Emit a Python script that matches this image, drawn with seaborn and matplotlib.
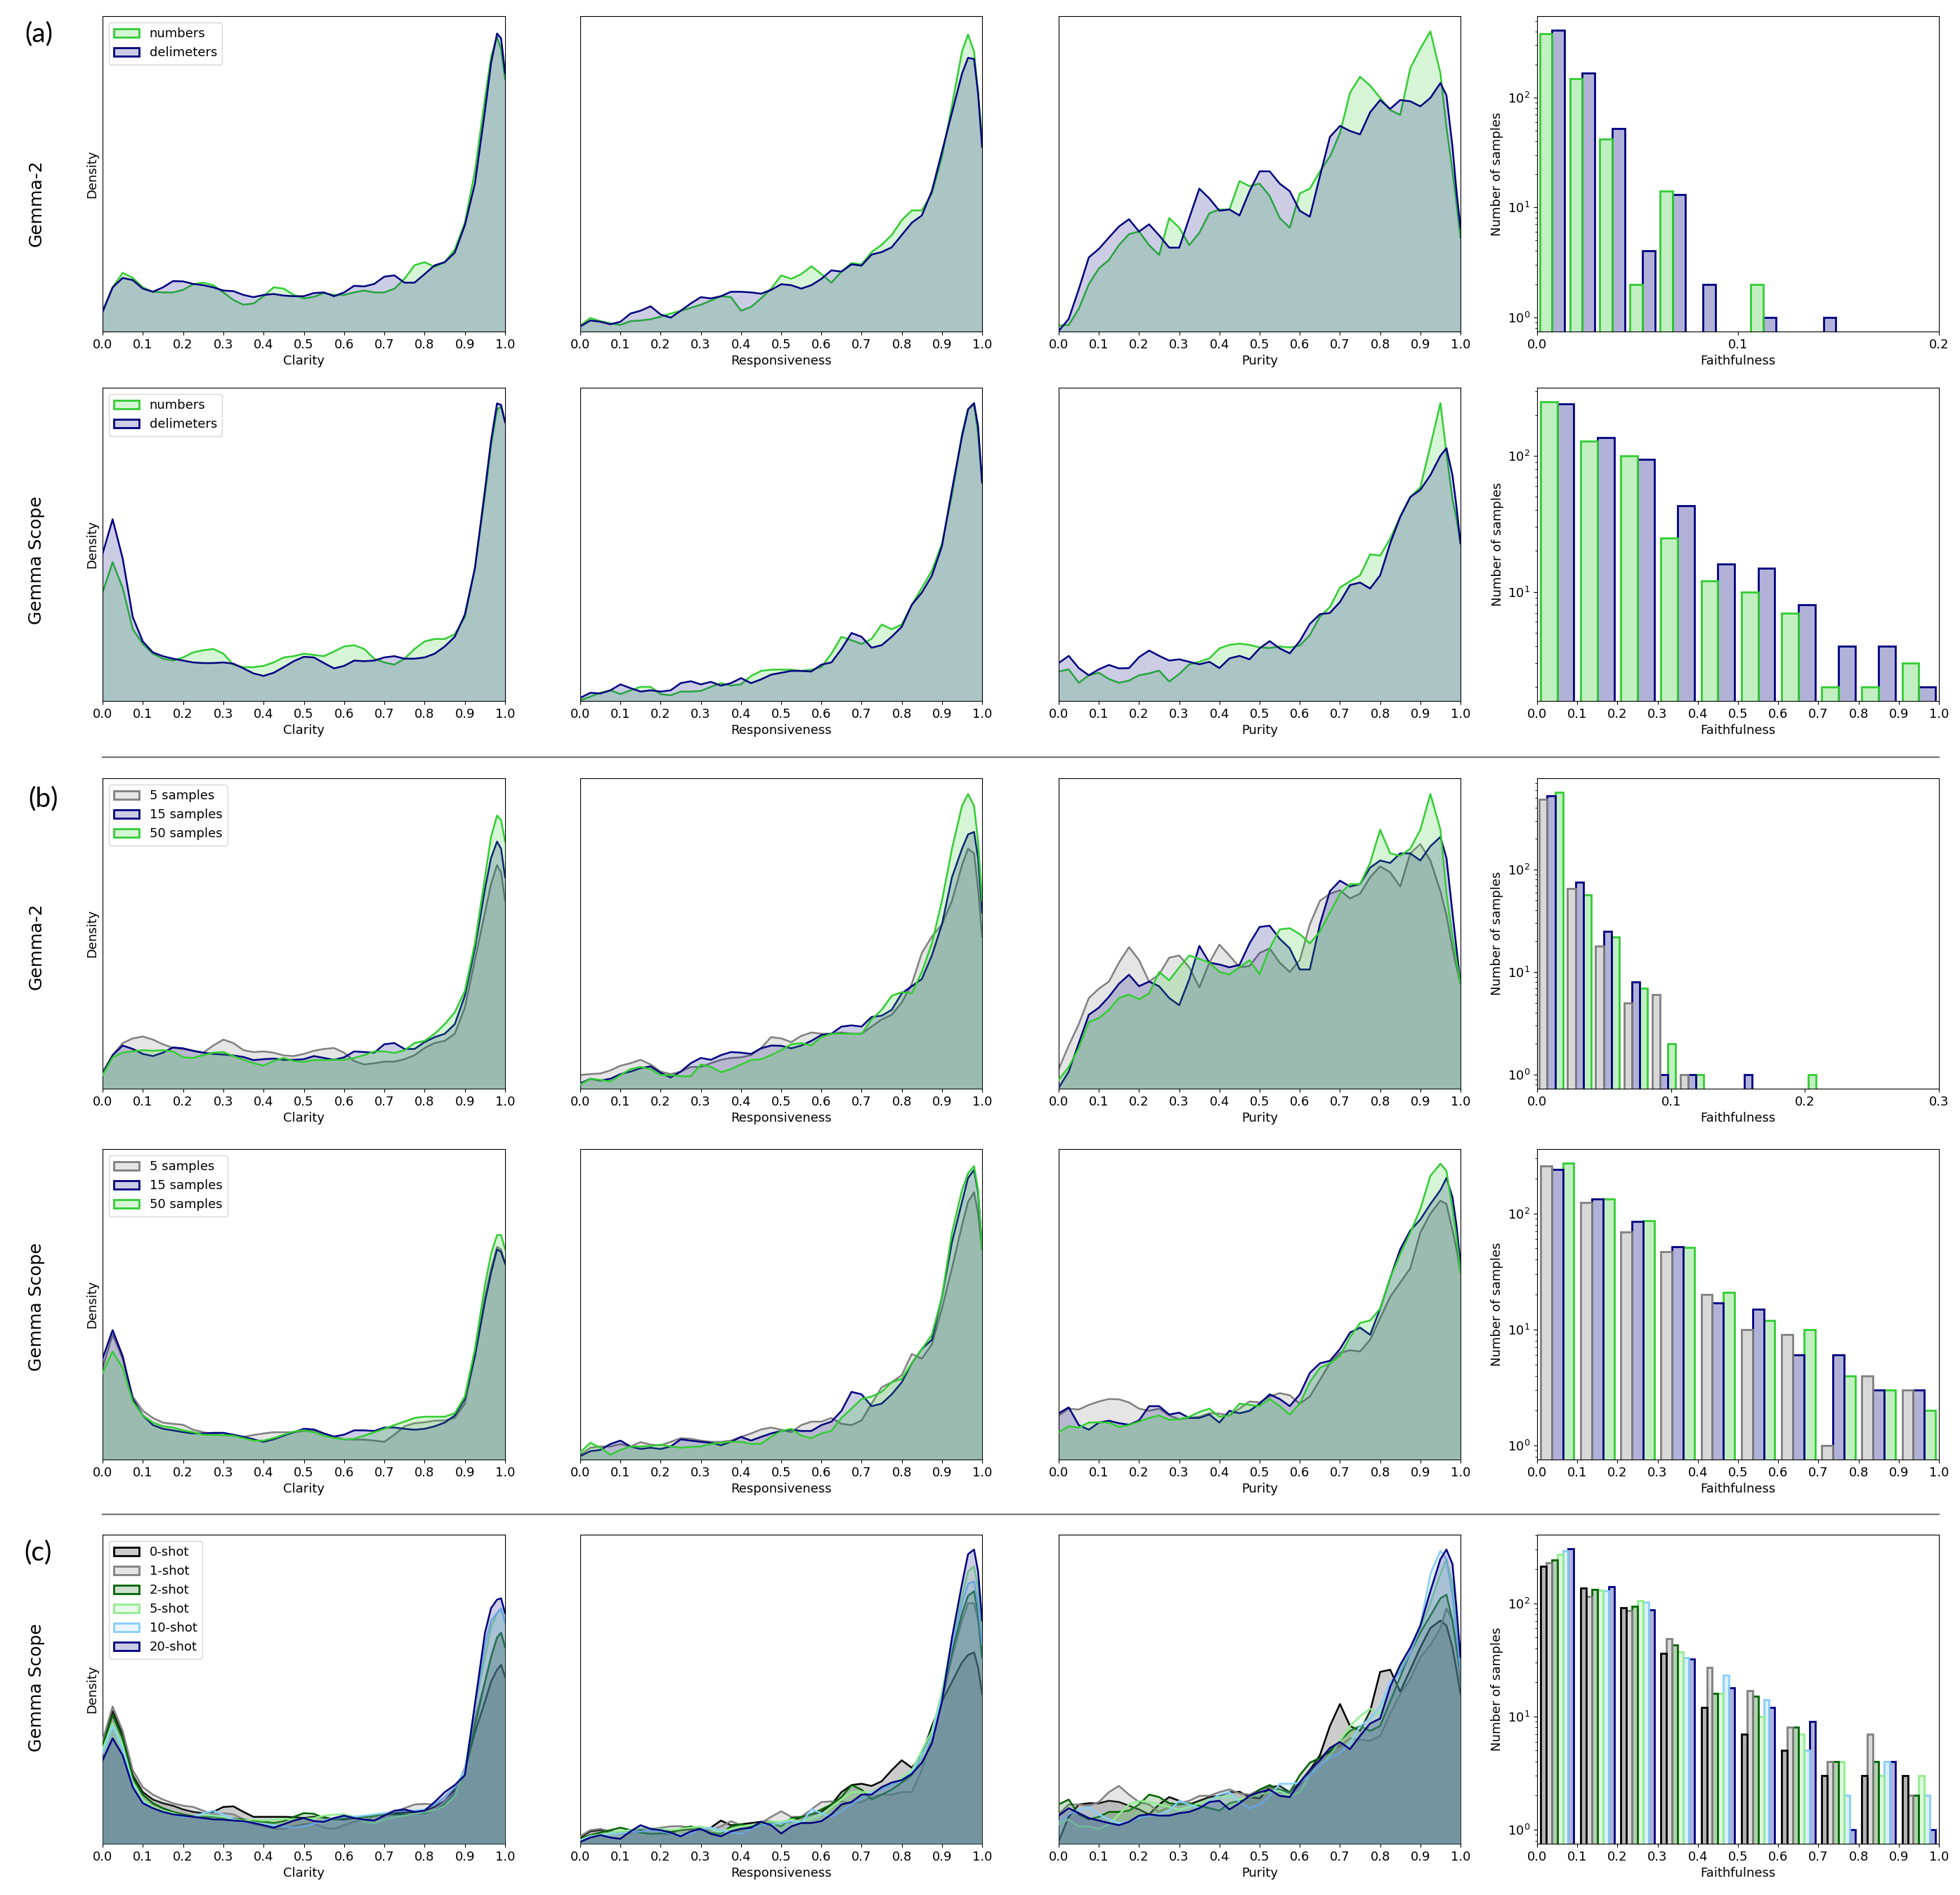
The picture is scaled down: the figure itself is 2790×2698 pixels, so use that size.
import numpy as np
import pandas as pd
import seaborn as sns
import matplotlib.pyplot as plt
from matplotlib.colors import to_rgba
from matplotlib.patches import Patch
from matplotlib.lines import Line2D

plt.rcParams["font.size"] = 13
plt.rcParams["xtick.labelsize"] = 13
plt.rcParams["ytick.labelsize"] = 13
plt.rcParams["axes.labelsize"] = 13
plt.rcParams["legend.fontsize"] = 13

# x positions where the density curves were read (score axis)
X = [0.0, 0.025, 0.05, 0.075, 0.1, 0.125, 0.15, 0.175, 0.2, 0.225,
     0.25, 0.275, 0.3, 0.325, 0.35, 0.375, 0.4, 0.425, 0.45, 0.475,
     0.5, 0.525, 0.55, 0.575, 0.6, 0.625, 0.65, 0.675, 0.7, 0.725,
     0.75, 0.775, 0.8, 0.825, 0.85, 0.875, 0.9, 0.925, 0.95,
     0.965, 0.98, 0.99, 1.0]

# ---- (a) Gemma-2 : numbers / delimeters (density, % of panel height)
a_clar_num = [6.6,14,18.6,17,14,12.6,12.4,12.4,13.2,15, 15.5,14.7,12.4,10,8.5,8.9,11.2,14,13.6,11.6,
              10.5,11,12.2,11.6,11.6,12.4,13,12.4,12.4,13.6, 16.7,21,22,20.5,22,26,34.5,50.8,74, 87,93.4,89.5,80]
a_clar_del = [6.2,14,17,16.3,13.6,12.6,14,16,15.9,15.1, 14.7,14,13,12.8,11.6,10.9,11.6,11.9,11.4,11.2,
              11.2,12.2,12.4,11.2,12.4,14.5,14.3,15.1,17.4,17.8, 15.5,15.5,18.2,21,22,25,33.7,46.9,70, 85,94.5,93,82]
a_resp_num = [1.9,4.3,3.3,2.6,2.1,3.3,3.5,3.9,4.7,5.7, 6.6,7.5,8.5,9.8,11.2,10.9,6.6,7.8,10.5,13.6,
              17.8,16.7,18.2,20.7,18.2,15.5,19,21.7,21.3,25.2, 27.5,30.6,35.3,38.4,38.4,43.8,55.4,71.7,88.8, 94.2,88.8,75.6,61.6]
a_resp_del = [1.6,3.5,3.1,2.3,3.1,5.7,6.6,8,5.4,4.4, 6.6,8.9,10.9,10.5,11.2,12.6,12.6,12.4,12,13.2,
              15,14.7,13.6,14.7,16.7,19.4,19,21.3,20.9,24.4, 25.2,26.7,30.6,34.5,36.8,44.6,57,69.4,81.8, 86.8,86.4,75.6,58.5]
a_pur_num = [1.9,2.1,7.2,15,20,22.7,27.4,30.9,31.7,27.4, 24.3,36,32.9,27.4,31.3,37.5,38.7,38.7,47.7,46.1,
             46.9,43,36,32.9,43.8,45.3,50.8,55.5,62.9,75.7, 80.8,78,74.1,70.2,68.7,83.5,89.7,95.2,81.9, 64.8,50.8,40.7,29.8]
a_pur_del = [0.2,4,13.4,23.5,26.2,29.8,33.3,35.6,31.7,34, 30.5,26.6,26.6,36,45.3,42.2,38.3,38.7,36.8,44.5,
             50.8,50.8,46.9,44.5,38.3,36.4,49.2,61.7,65.2,63.6, 62.5,69.5,73.4,70.6,73.4,73,71.4,74.1,78.8, 74.9,58.6,44.5,32.9]

# ---- (a) Gemma Scope
b_clar_num = [34.6,44.3,36.1,22.9,18.2,15.1,13.5,12.9,13.9,15.5, 16.2,16.6,15.1,11.6,10.8,10.8,11.2,12.3,13.9,14.3,
              15.1,14.7,14.3,15.8,17.4,17.8,16.6,13.5,12.3,11.6, 13.5,16.6,19,19.8,19.8,21.3,26.8,42.4,65.8, 81.4,93.1,93.9,89]
b_clar_del = [47,58,45.5,26.8,19,15.5,14.3,13.5,12.9,12.3, 12.1,12.1,12.3,11.9,10.4,8.8,8,9,10.8,12.7,
              14.1,13.9,12.1,10.4,11.2,12.9,12.7,12.9,13.9,14.3, 13.5,13.5,13.9,15.1,17.4,20.5,27.6,42.4,67.4, 83,95,94.5,89]
b_resp_num = [0.2,1.4,2.6,3.4,2.2,3.4,4.5,4.5,2.2,1.8, 3,3,3.2,4.5,5.7,4.9,5.3,8,9.6,10,
              10,10,9.6,10,10.8,15.1,20.5,19.4,18.2,19.8, 24.4,22.9,24.4,30.7,36.1,41.6,50.2,65.8,85.3, 93.1,94.7,85.3,69.7]
b_resp_del = [1,2.6,2.4,3.4,5.3,4.1,3,3.4,3,3.4, 5.7,6.3,5.3,6.1,4.9,5.7,7.3,5.7,6.9,8.4,
              9,9.6,9.6,9.4,11.6,12.3,16.6,21.7,20.5,17, 17.8,20.5,23.7,30.7,34.6,40,49.4,67.4,84.5, 93.1,95.1,87.7,69.7]
b_pur_num = [9.4,10.1,5.8,8.2,9,7,5.8,6.5,8.2,8.8, 9.7,6.2,8.6,11.7,12.5,13.6,16.8,17.9,18.3,17.9,
             17.1,16.9,17.4,17.1,17.7,21,26.9,30,36.2,38.2, 40.1,46.8,46.4,51.8,58.8,65.1,68.2,81.4,95.1, 79.1,64.3,58.1,50.3]
b_pur_del = [12.1,14.4,10.5,8.2,10.1,11.5,10.4,10.5,14,16.1, 14.4,12.9,13.3,12.5,11.7,12.5,10.5,13.6,14.4,13.3,
             16.8,19.1,16.8,15.2,19.1,24.6,27.7,28.1,31.6,37, 37.8,35.9,40.1,50.3,58.8,65.1,67.4,72.1,78.3, 80.7,72.1,62,50.3]

# ---- (b) Gemma-2 : 5 / 15 / 50 samples
c_clar_5 = [5.5,10.8,14.7,16.2,16.8,15.8,14.3,13.1,12.8,12.2, 11.6,13.9,15.8,14.7,12.4,11.8,12,11.6,10.7,10.5,
            11.2,12.2,12.8,13.1,11.6,8.9,7.8,8.2,8.7,8.7, 9.5,10.8,13.1,14.7,15.4,17.7,26.1,41.4,56.7, 65.9,72,69.7,60.5]
c_clar_15 = [4.7,10.8,13.9,12.8,11.2,10.5,11.6,13.3,13,12.2, 11.6,11.2,11,10.7,10.2,9.2,9.5,9.7,9.3,9.3,
             9.5,10.5,9.9,9.3,10.1,12,11.8,11.6,14.3,14.7, 12.8,12.8,15,16.6,17.7,20.8,29.9,45.2,64.3, 74.3,79.6,77.3,68.1]
c_clar_50 = [4.4,10.1,11.6,12,12.4,12.2,12.4,12,10.1,9.9, 10.8,11.6,11.8,10.5,9.3,8.2,7.4,8.9,9.9,8.9,
             8.6,9.2,9.2,9.3,9.3,9.9,10.8,12,12,11.5, 12.4,14.7,15.4,17.7,20.8,24.6,31.5,46.8,68.1, 81.1,88,86.5,79.6]
c_resp_5 = [4.4,4.7,4.9,5.9,7.4,8.2,9.3,7.8,5.5,4.7, 5.5,7,7,8.2,9.3,9.9,10.1,10.8,13.1,16.6,
            16.2,15,17,18.1,17.7,17.7,18.1,17.7,17.7,20, 22.3,23.8,27.7,33.8,43.7,49,52.9,60.5,72, 77.3,75.8,64.3,49]
c_resp_15 = [1.7,3.2,2.6,3.2,4.7,5.5,6.6,7.2,5.1,3.6, 5.5,8.2,9.9,9.3,10.8,11.8,11.6,11.2,13,13.9,
             13.8,13,13.9,15.4,17.3,17.7,20,20.4,20,23.1, 23.5,25.4,30.7,33,35.3,42.9,52.9,68.1,77.3, 81.9,82.7,74.3,56.7]
c_resp_50 = [1.3,3.2,2.8,2.3,4.4,6.3,7,6.3,4.4,4.4, 4,4,7.8,7,5.3,6.3,7.8,9.2,9.5,10.8,
             12.4,14.3,14.7,13.9,16.6,17.7,17.7,17.7,17.6,22.3, 25.4,29.9,31.1,30.7,37.6,46.8,60.5,77.3,91.1, 94.9,91.1,79.6,60.5]
c_pur_5 = [6.3,13.9,20.8,29.2,32.2,34.5,40.6,45.6,41.4,34.5, 36.8,42.2,42.9,39.1,32.6,40.6,46.4,42.9,39.1,39.5,
           43.7,45.2,40.6,37.6,41.4,52.9,60.5,62.8,63.9,61.3, 62.8,68.1,71.6,69.7,65.1,75.8,78.8,73.5,63.6, 55.9,45.2,39.1,33.8]
c_pur_15 = [0.3,5.5,14.7,23.8,26.1,29.6,33.8,36.7,33,34.5, 33,29.2,26.9,35.3,46,40.6,40,39.1,39.9,46.8,
            52.1,52.5,48.3,45.2,38.4,38.4,52.9,63.6,67,65.1, 65.9,71.2,73.5,72.7,75.8,75.8,73.5,78.1,81.1, 74.3,56.7,45.2,33.8]
c_pur_50 = [2.8,7,13.1,21.5,22.7,25.4,29.2,30.3,28.8,30.7, 37.6,34.9,39.1,42.9,41.8,40.6,37.6,36.8,39.1,41.4,
            36.8,45.2,51.3,51.7,49.8,46.8,50.6,56.7,62.8,65.9, 65.9,72.7,83.4,75.8,75,77.3,83.4,94.9,83.4, 62.8,49,41.4,33.8]

# ---- (b) Gemma Scope
d_clar_5 = [29.5,40.2,32.5,20.3,15.7,13.4,11.9,11.5,11.2,9.6, 8.8,8.2,7.9,7.7,7.3,7.9,8.4,8.8,8.8,8.8,
            9.2,9.4,8.4,7.3,6.5,6.4,6.4,6.1,5.7,8, 10.7,11.7,12,12.5,12.6,13.4,18,33.3,52.4, 61.6,68.5,67.7,63.1]
d_clar_15 = [32.5,41.7,33.3,19.5,14.2,11.1,9.9,9.4,8.8,8.4, 8.4,8.6,8.6,8,7.3,6.5,5.7,6.5,7.7,8.8,
             9.9,9.7,8.4,7.4,8,9.4,9.4,9.2,10.3,10.3, 9.9,9.6,9.9,10.7,11.9,14.2,19.5,33.3,50.9, 60.1,67.7,66.9,63.1]
d_clar_50 = [27.9,34.8,29.5,18.7,14.2,11.9,10.7,10.3,9.4,8.8, 8,7.9,7.9,7.7,6.9,6.1,6.1,6.9,8,9,
             9.4,8.8,7.7,6.9,6.5,6.7,7.7,8.8,9.9,11.1, 12.2,13.4,13.8,13.8,13.8,14.9,20.3,35.6,56.2, 66.2,72.3,72.3,67.7]
d_resp_5 = [1.5,3.8,4.2,4.2,5,4.2,5.6,4.8,4.6,5.7, 6.9,6.7,6.1,5.7,5.7,6.1,7.3,8.4,9.7,10.3,
            9.6,8.8,11.1,12.2,12.2,13.4,11.5,11.1,12.6,18, 23.3,24.9,27.2,34,32.5,37.1,48.6,61.6,75.4, 83,86.1,79.2,67.7]
d_resp_15 = [1.1,2.7,3.1,5,6.1,4.2,3.4,3.8,3.4,4.2, 6.5,6.1,5.7,5.4,4.6,5.7,7.3,6.1,7.3,8.4,
             9.2,9.6,9.2,9.2,11.1,12.2,15.7,21.8,21,17.2, 18,21,24.9,31,35.6,38.6,52.4,70,83, 90.7,93.3,86.1,67.7]
d_resp_50 = [2.3,5.4,3.8,1.5,3.1,4.2,4.2,4.4,4.8,4.2, 3.8,4.1,4.2,5,5.4,5.7,5.7,5,5.1,7.3,
             9.2,9.9,7.7,6.9,8.4,9.2,13.4,16.4,19.5,20.3, 21.8,24.9,26,31,35.6,40.2,52.4,73.1,86.8, 92.2,94.5,86.8,67.7]
d_pur_5 = [14.2,16.4,16.1,17.6,18.7,19.5,19.4,18.4,16.4,15.7, 16.4,14.2,13,13.4,13.8,14.9,14.8,14.2,16.4,18.7,
           18.4,20.3,21.4,20.7,18,20.3,25.6,31,34.4,35.2, 34.8,38.6,45.5,52.4,57,61.6,73.1,79.2,83.4, 82.3,73.8,67.7,60.1]
d_pur_15 = [14.9,16.8,11.1,9.6,11.9,12.5,11.7,11.2,12.6,17.2, 17.2,14.5,15.1,13.4,13.4,14.5,11.9,15.7,14.9,15.7,
            18,21,19.5,17.2,21,27.9,31,31.8,35.6,40.9, 42.5,40.2,48.6,58.5,67.7,73.8,77.3,82.3,86.8, 90.7,84.5,75.4,63.1]
d_pur_50 = [8.8,10.7,10.3,11.9,12,11.9,10.5,11.1,12.2,13.4, 14.2,12.8,13,13.8,15.3,16.4,13.8,14.2,18,17.6,
            17.2,19.5,17.2,14.5,18,24.9,29.5,31,33.3,39.4, 44,44.8,48.6,58.5,66.2,73.1,80.7,91.4,95.3, 93,80.7,71.5,60.1]

# ---- (c) Gemma Scope : 0 / 1 / 2 / 5 / 10 / 20-shot
e_clar_0 = [32.5,42.9,35.3,22.2,16.7,14.3,13.1,12.3,11.1,10.3, 9.9,10.3,11.9,12.1,10.3,8.7,8.7,8.7,8.7,8.6,
            8.3,8.7,8.6,7.9,7.8,8.3,8.7,9.1,9.5,9.9, 10.2,10.2,10.7,11.9,13.9,17.5,23.8,36,46, 52.4,56.3,57.9,54]
e_clar_1 = [33.3,44.4,36.5,23.8,18.3,15.9,14.3,13.1,12.3,11.9, 10.7,9.5,9.9,9.5,7.9,6.3,5.6,4.9,4.8,5.6,
            6.3,6.5,5.2,4.8,6,7.1,7.8,8.7,9.5,10.3, 11.5,12.7,12.9,12.7,13.9,16.7,24.6,40.5,52.4, 60.3,66.7,68.3,63.5]
e_clar_2 = [31.7,41.7,34.1,21.4,15.9,13.1,11.5,10.3,9.5,8.9, 8.7,8.7,8.3,8.1,7.8,7.5,7.1,6.7,7.3,8.7,
            9.9,9.7,8.3,7.9,8.3,8.7,8.7,9.1,9.5,9.5, 9.5,9.7,9.9,10.7,12.7,15.9,23,38.1,52.4, 60.3,66.7,68.3,63.5]
e_clar_5 = [30.6,38.9,31.7,19.8,14.3,11.9,10.7,9.9,9.1,8.7, 9.5,9.1,8.7,7.9,7.5,7.8,7.5,7.8,8.1,7.9,
            8.1,8.3,9.1,9.4,9.5,8.7,7.1,6.7,7.8,8.6, 9.1,9.7,10.2,10.7,12.3,15.5,23.8,44.4,60.3, 69.8,74.6,76.2,72.2]
e_clar_10 = [29.4,38.1,30.6,19,13.5,11.5,10.3,9.5,8.7,8.7, 9.9,10.7,9.5,7.9,7.1,6.7,6.3,6,5.6,5.2,
             5.6,6.5,7.5,8.3,8.7,8.7,9.1,9.5,9.9,10.5, 10.7,10.7,11.1,12.7,15.1,18.3,23.8,44.4,64.3, 72.2,74.6,76.2,71.4]
e_clar_20 = [27,34.1,28.6,18.3,13.1,11.5,10.3,9.5,9.1,8.7, 8.3,7.9,7.8,7.5,7.3,6.7,6,5.2,6.3,7.5,
             8.3,7.3,7.1,8.3,9.1,8.3,7.8,7.5,9.1,10.7, 11.1,10.3,10.7,13.5,16.7,19,22.2,45.2,68.3, 76.2,79,79.4,74.6]
e_resp_0 = [2,4,4.4,3.6,3.2,3.6,4.4,4.4,4.1,4, 4.4,4.8,4.4,5.2,7.5,6,6.3,6.7,7.1,7.1,
            6.7,7.1,8.7,9.5,10.3,12.7,16.7,19,19.4,18.7, 20.2,23.8,27,24.6,28.6,38.1,46,52.4,58.7, 61.1,61.9,57.1,48.4]
e_resp_1 = [2.4,4.4,4.8,4,3.3,4.4,4.8,4.8,5.2,5.6, 5.7,5.2,4.4,4.4,5.6,7.3,6,6,6.7,8.7,
            10.5,8.7,8.7,11.1,13.5,13.7,13.7,13.1,13.5,15.1, 15.9,15.9,16.7,16.7,23.8,34.9,46,60.3,72.2, 77.8,77.8,72.2,60.3]
e_resp_2 = [1.6,2.8,3.6,4.4,5.2,4.4,3.6,3.2,3.3,3.2, 4.8,5.6,4.8,3.6,3.2,5.6,6.3,5.6,6.3,6.7,
            5.6,8.3,8.6,9.5,11.1,12.7,15.1,19,17.5,14.3, 15.9,17.5,19.8,22.2,28.6,36.5,47.6,61.9,74.6, 80.2,81.7,74.6,60.3]
e_resp_5 = [1.2,2.5,3,3.6,4,4.4,4.9,4.8,4.8,4.4, 4.8,5.2,5.6,4.8,4,4.8,5.6,6,6.7,7.1,
            7.1,7.9,7.1,8.3,9.5,11.9,14.3,16.7,16.7,16.7, 18.3,19,21.4,23.8,30.2,36.5,49.2,65.9,80.2, 88.1,89.7,82.5,68.3]
e_resp_10 = [1,2.4,2.5,3.2,3.3,3.8,4,4.4,4,3.3, 2.8,3.2,4.8,5.2,4.4,3.6,3.2,4.8,6,6.3,
             6.7,7.3,6.7,11.1,9.9,8.7,10.7,12.7,14.7,16.7, 17.5,19,20.6,23,28.6,34.9,47.6,64.3,77.8, 84.1,84.9,77.8,64.3]
e_resp_20 = [0.6,2,2.8,2,1.6,4,6,4.8,4.4,3.6, 2.4,4,4.8,3.2,2.4,4,4.8,5.2,7.1,6,
             3.3,5.6,6.7,6.7,7.3,9.5,12.7,13.5,15.9,15.9, 18.3,19.8,20.6,22.6,26.2,32.5,46,66.7,84.1, 93.7,95.2,88.1,72.2]
e_pur_0 = [0.8,8.7,12.7,13.1,13.1,13.9,13.5,12.3,11.1,9.5, 12.7,15.1,13.9,12.7,13.9,15.1,15.5,16.7,16.8,15.1,
           14.7,18.3,18.7,16.7,19.8,23.8,28.6,38.1,45.2,38.1, 36.5,42.9,55.6,56.3,49.2,56.3,63.5,69.8,72.2, 70.6,63.5,56.3,48.4]
e_pur_1 = [9.5,12.7,12.7,12.3,13.5,16.7,18.7,15.9,13.5,12.7, 10.3,11.9,13.1,13.9,15.5,15.5,16.7,17.6,16.3,15.9,
           17.5,18.3,16.7,16.3,19,23,27.8,30.6,31.7,34.1, 33.7,33.3,34.9,42.1,48.4,53.2,60.3,64.3,69.8, 76.2,72.2,63.5,52.4]
e_pur_2 = [12.7,14.3,9.5,7.9,8.7,10.3,10.3,10.7,12.7,15.9, 15.1,13.1,12.7,13.1,12.3,11.5,10.7,13.1,13.9,15.1,
           17.5,19,17.5,16.7,22.2,26.2,27.8,29.8,33.3,36.5, 38.1,36.5,38.1,46,54,61.9,68.3,73.8,79.4, 80.6,72.2,63.5,56.3]
e_pur_5 = [6.3,7.9,5.6,5.6,4.8,6.3,9.5,12.7,13.9,13.5, 12.7,11.9,11.1,11.9,13.1,14.3,15.1,15.5,14.3,15.1,
           15.9,16.7,17.1,15.5,16.7,22.2,25.4,28.6,33.3,38.1, 41.3,43.7,42.1,50.8,57.1,61.9,69.8,77.8,87.3, 92.1,84.1,72.2,60.3]
e_pur_10 = [7.1,9.5,11.1,11.9,9.5,7.9,6.7,7.1,8.3,9.1, 9.5,10.7,13.9,12.7,11.5,13.9,15.9,16.7,13.5,11.5,
            12.7,15.5,19.4,19.4,19.8,22.2,25.4,27.8,29.4,32.5, 38.1,40.5,44.4,52.4,55.6,61.9,70.6,87.3,94.8, 92.1,80.2,68.3,56.3]
e_pur_20 = [9.1,11.5,9.9,8.3,7.5,6.7,6,7.1,9.1,9.5, 9.1,9.1,9.9,10.3,11.5,13.5,13.9,11.1,13.1,15.5,
            16.7,17.5,15.5,15.1,19.8,23.8,27,31,32.9,30.6, 34.9,38.9,40.5,50.8,57.9,63.5,70.6,81.7,92.1, 95.2,90.5,76.2,60.3]

# ---- Faithfulness histograms (counts per bin)
a_faith_bin = 0.015
a_faith_num = [383, 148, 42, 2, 14, 0, 0, 2, 0, 0]
a_faith_del = [408, 166, 52, 4, 13, 2, 0, 1, 0, 1]
b_faith_bin = 0.1
b_faith_num = [250, 128, 100, 25, 12, 10, 7, 2, 2, 3]
b_faith_del = [242, 136, 95, 43, 16, 15, 8, 4, 4, 2]
c_faith_bin = 0.021
c_faith_5 = [487, 66, 18, 5, 6, 1, 0, 0, 0, 0]
c_faith_15 = [525, 75, 25, 8, 1, 1, 0, 1, 0, 0]
c_faith_50 = [569, 57, 22, 7, 2, 1, 0, 0, 0, 1]
d_faith_bin = 0.1
d_faith_5 = [259, 125, 69, 47, 20, 10, 9, 1, 4, 3]
d_faith_15 = [240, 134, 85, 52, 17, 15, 6, 6, 3, 3]
d_faith_50 = [272, 134, 87, 51, 21, 12, 10, 4, 3, 2]
e_faith_bin = 0.1
e_faith_0 = [213, 136, 91, 36, 12, 7, 5, 3, 3, 3]
e_faith_1 = [228, 114, 86, 49, 27, 17, 8, 4, 7, 2]
e_faith_2 = [242, 133, 94, 43, 16, 15, 8, 4, 4, 2]
e_faith_5 = [270, 131, 105, 37, 16, 10, 7, 4, 3, 3]
e_faith_10 = [292, 128, 103, 33, 23, 14, 5, 2, 4, 2]
e_faith_20 = [303, 141, 87, 32, 18, 12, 9, 1, 4, 1]

lab_a = ["numbers", "delimeters"]
col_a = ["limegreen", "navy"]
lab_b = ["5 samples", "15 samples", "50 samples"]
col_b = ["gray", "navy", "limegreen"]
lab_c = ["0-shot", "1-shot", "2-shot", "5-shot", "10-shot", "20-shot"]
col_c = ["black", "gray", "darkgreen", "lightgreen", "lightskyblue", "navy"]

rows = [
    (lab_a, col_a, [a_clar_num, a_clar_del], [a_resp_num, a_resp_del], [a_pur_num, a_pur_del],
     [a_faith_num, a_faith_del], a_faith_bin, 0.2),
    (lab_a, col_a, [b_clar_num, b_clar_del], [b_resp_num, b_resp_del], [b_pur_num, b_pur_del],
     [b_faith_num, b_faith_del], b_faith_bin, 1.0),
    (lab_b, col_b, [c_clar_5, c_clar_15, c_clar_50], [c_resp_5, c_resp_15, c_resp_50],
     [c_pur_5, c_pur_15, c_pur_50], [c_faith_5, c_faith_15, c_faith_50], c_faith_bin, 0.3),
    (lab_b, col_b, [d_clar_5, d_clar_15, d_clar_50], [d_resp_5, d_resp_15, d_resp_50],
     [d_pur_5, d_pur_15, d_pur_50], [d_faith_5, d_faith_15, d_faith_50], d_faith_bin, 1.0),
    (lab_c, col_c, [e_clar_0, e_clar_1, e_clar_2, e_clar_5, e_clar_10, e_clar_20],
     [e_resp_0, e_resp_1, e_resp_2, e_resp_5, e_resp_10, e_resp_20],
     [e_pur_0, e_pur_1, e_pur_2, e_pur_5, e_pur_10, e_pur_20],
     [e_faith_0, e_faith_1, e_faith_2, e_faith_5, e_faith_10, e_faith_20], e_faith_bin, 1.0),
]

W, H = 2790, 2698
COLS = [(146, 719), (826, 1398), (1507, 2079), (2188, 2760)]
ROWS = [(23, 472), (552, 998), (1108, 1550), (1636, 2078), (2185, 2625)]


def box(c, r):
    x0, x1 = COLS[c]
    y0, y1 = ROWS[r]
    return [x0 / W, 1 - y1 / H, (x1 - x0) / W, (y1 - y0) / H]


def kde_panel(ax, curves, colors, xlabel, ylabel, labels=None):
    for i, (vals, c) in enumerate(zip(curves, colors)):
        ax.fill_between(X, vals, color=c, alpha=0.2, linewidth=0, zorder=2 * i + 1)
        sns.lineplot(x=X, y=vals, color=c, linewidth=1.8, zorder=2 * i + 2, ax=ax)
    ax.set_xlim(0, 1)
    ax.set_ylim(0, 100)
    ax.set_xticks(np.round(np.arange(0, 1.01, 0.1), 1))
    ax.set_yticks([])
    ax.set_xlabel(xlabel)
    ax.set_ylabel(ylabel)
    if labels is not None:
        handles = [Patch(facecolor=to_rgba(c, 0.2), edgecolor=c, linewidth=2, label=l)
                   for l, c in zip(labels, colors)]
        ax.legend(handles=handles, loc="upper left")


def hist_panel(ax, counts, colors, labels, binw, xmax):
    edges = np.arange(len(counts[0]) + 1) * binw
    centers = (edges[:-1] + edges[1:]) / 2
    df = pd.DataFrame({
        "Faithfulness": np.tile(centers, len(counts)),
        "n": np.concatenate(counts),
        "group": np.repeat(labels, len(centers)),
    })
    sns.histplot(data=df, x="Faithfulness", weights="n", hue="group", hue_order=labels,
                 palette=colors, bins=list(edges), multiple="dodge", shrink=0.83, alpha=0.3,
                 linewidth=2, legend=False, ax=ax)
    for p in ax.patches:
        p.set_edgecolor(p.get_facecolor()[:3])
    ax.set_yscale("log")
    ax.relim()
    ax.autoscale_view()
    ax.set_xlim(0, xmax)
    ax.set_xticks(np.round(np.arange(0, xmax + 1e-9, 0.1), 1))
    ax.set_xlabel("Faithfulness")
    ax.set_ylabel("Number of samples")


fig = plt.figure(figsize=(W / 100, H / 100), dpi=100)

for r, (labels, colors, clar, resp, pur, faith, binw, xmax) in enumerate(rows):
    ax = fig.add_axes(box(0, r))
    kde_panel(ax, clar, colors, "Clarity", "Density", labels)
    ax = fig.add_axes(box(1, r))
    kde_panel(ax, resp, colors, "Responsiveness", "")
    ax = fig.add_axes(box(2, r))
    kde_panel(ax, pur, colors, "Purity", "")
    ax = fig.add_axes(box(3, r))
    hist_panel(ax, faith, colors, labels, binw, xmax)

# panel letters and row names
for txt, (x, y) in zip(["(a)", "(b)", "(c)"], [(55, 48), (62, 1137), (54, 2210)]):
    fig.text(x / W, 1 - y / H, txt, fontsize=28, ha="center", va="center", family="Lato")
for txt, y in zip(["Gemma-2", "Gemma Scope", "Gemma-2", "Gemma Scope", "Gemma Scope"],
                  [289, 798, 1347, 1861, 2403]):
    fig.text(52 / W, 1 - y / H, txt, fontsize=18, rotation=90, ha="center", va="center")

# separators between (a), (b), (c)
for y in [1078, 2156]:
    fig.add_artist(Line2D([146 / W, 2760 / W], [1 - y / H, 1 - y / H], color="#777777", linewidth=1.6))

fig.savefig("out.png", dpi=100)
